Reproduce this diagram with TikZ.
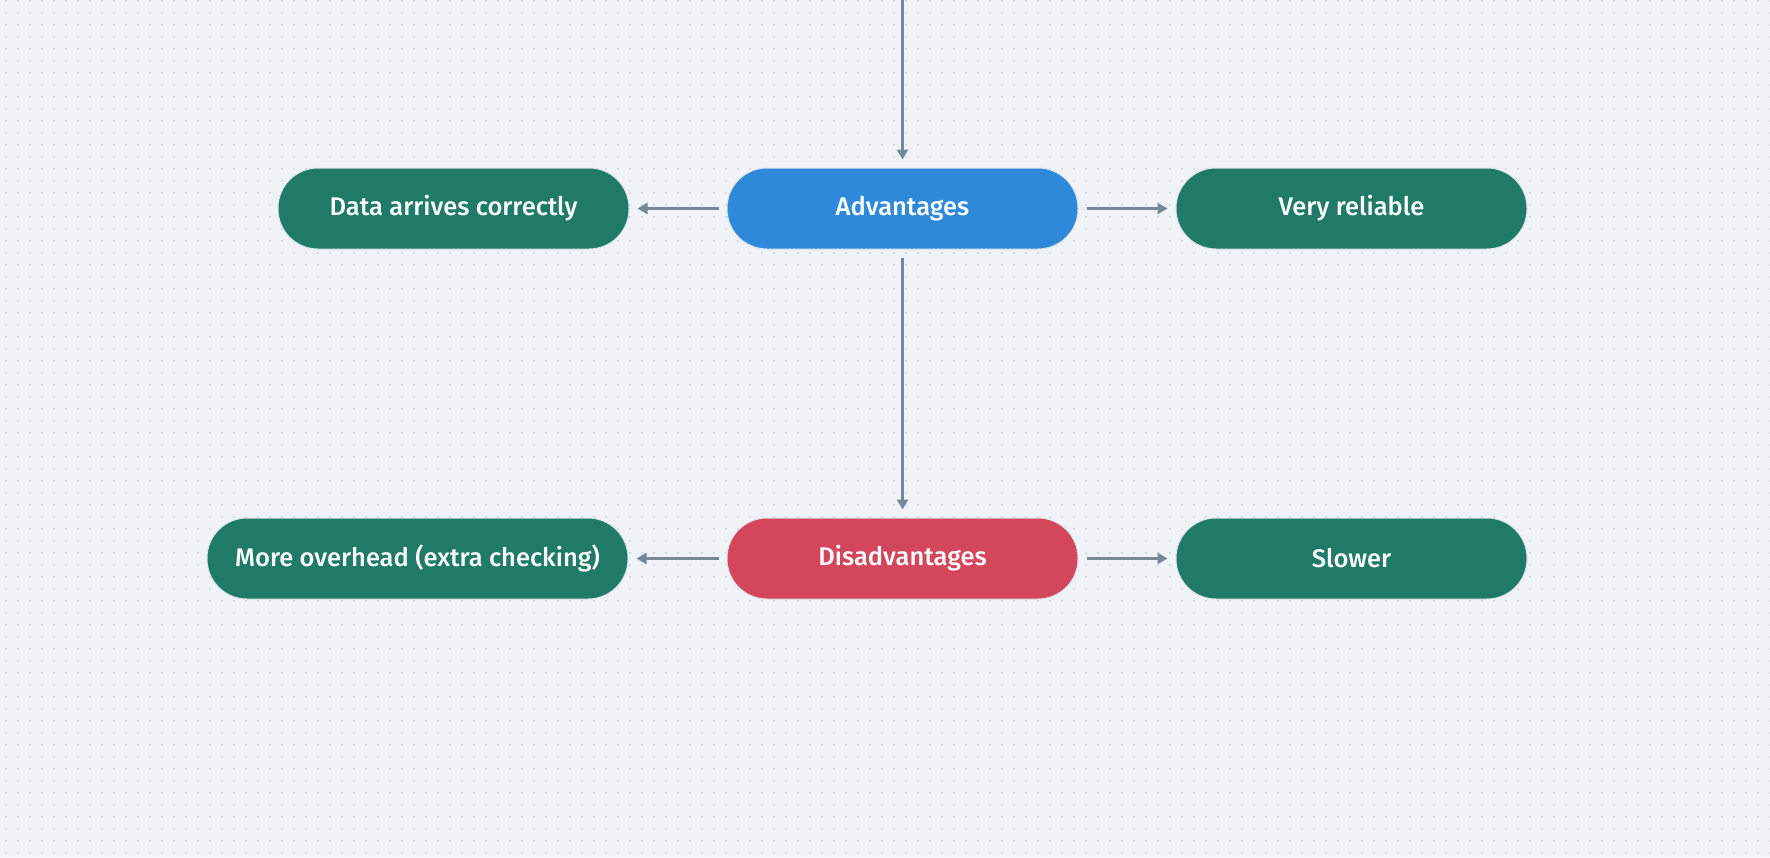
\documentclass[tikz,border=0pt]{standalone}
\usepackage{fontspec}
\setmainfont{Fira Sans}[UprightFont={* Medium}]
\usetikzlibrary{arrows.meta}
\definecolor{bgc}{HTML}{EFF3F7}
\definecolor{dotc}{HTML}{D9DEE4}
\definecolor{bluec}{HTML}{2E89DA}
\definecolor{redc}{HTML}{D4465B}
\definecolor{greenc}{HTML}{1F7A68}
\definecolor{arrc}{HTML}{778797}
\definecolor{edgec}{HTML}{DDE3EA}
\tikzset{
  pill/.style={rectangle, rounded corners=40pt, minimum height=81pt, inner sep=0pt,
    text=white, font=\fontsize{25.5}{30}\selectfont, draw=edgec, line width=1pt},
  arr/.style={draw=arrc, line width=3.8pt, -{Triangle[length=10pt,width=11pt]},
    shorten <=8pt, shorten >=8pt},
}
\begin{document}
\begin{tikzpicture}[x=1pt,y=1pt]
\fill[bgc] (0,0) rectangle (1770,-857);
\useasboundingbox (0,0) rectangle (1770,-857);
\foreach \j in {0,...,71} {
  \draw[dotc, line width=1.6pt, dash pattern=on 1.6pt off 10.4pt] (5,{-1-12*\j}) -- (1770,{-1-12*\j});
}
\node[pill, fill=bluec, minimum width=351pt] (adv) at (902.5,-208.5) {Advantages};
\node[pill, fill=redc, minimum width=351pt] (dis) at (902.5,-558.5) {Disadvantages};
\node[pill, fill=greenc, minimum width=351pt] (data) at (453.5,-208.5) {Data arrives correctly};
\node[pill, fill=greenc, minimum width=351pt] (rel) at (1351.5,-208.5) {Very reliable};
\node[pill, fill=greenc, minimum width=421pt] (over) at (417.5,-558.5) {More overhead (extra checking)};
\node[pill, fill=greenc, minimum width=351pt] (slow) at (1351.5,-558.5) {Slower};
\coordinate (top) at (902.5,8);
\draw[arr, shorten <=0pt] (top) -- (adv);
\draw[arr] (adv) -- (data);
\draw[arr] (adv) -- (rel);
\draw[arr] (adv) -- (dis);
\draw[arr] (dis) -- (over);
\draw[arr] (dis) -- (slow);
\end{tikzpicture}
\end{document}
